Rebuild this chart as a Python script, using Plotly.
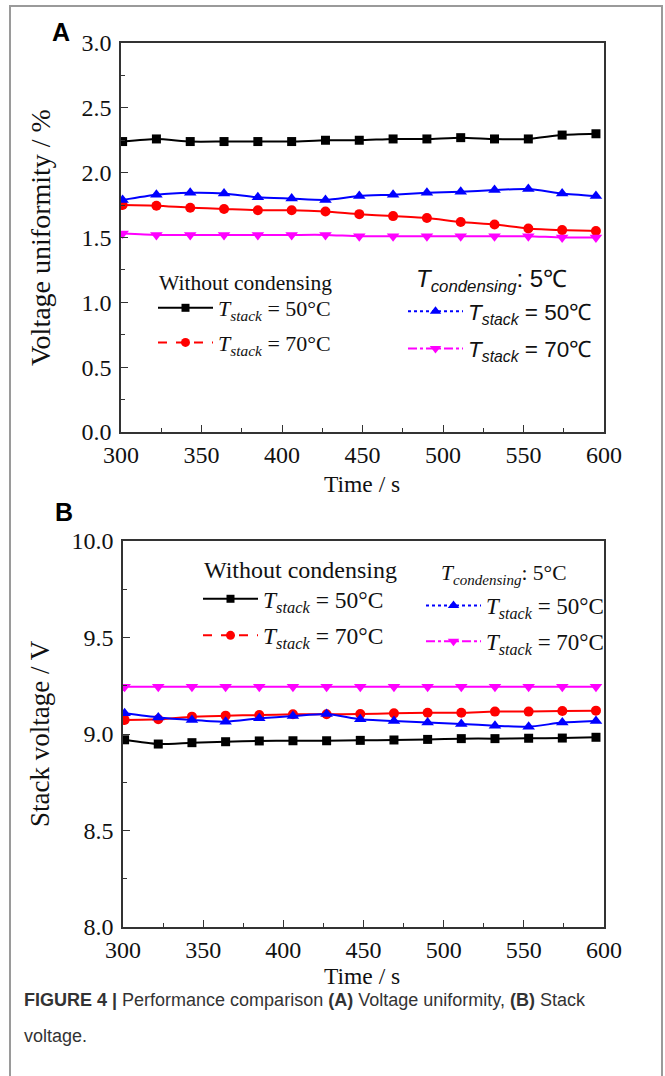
import plotly.graph_objects as go

# ---------------- data ----------------
time_s = [301, 322, 343, 364, 385, 406, 427, 448, 469, 490, 511, 532, 553, 574, 595]

# Panel A: voltage uniformity (%)
vu_nocond_50 = [2.24, 2.26, 2.24, 2.24, 2.24, 2.24, 2.25, 2.25, 2.26, 2.26, 2.27, 2.26, 2.26, 2.29, 2.30]
vu_nocond_70 = [1.75, 1.745, 1.73, 1.72, 1.71, 1.71, 1.70, 1.68, 1.665, 1.65, 1.62, 1.60, 1.57, 1.557, 1.55]
vu_cond_50 = [1.79, 1.83, 1.845, 1.84, 1.81, 1.80, 1.79, 1.82, 1.83, 1.845, 1.853, 1.866, 1.874, 1.84, 1.82]
vu_cond_70 = [1.53, 1.52, 1.52, 1.52, 1.52, 1.52, 1.52, 1.51, 1.51, 1.51, 1.51, 1.51, 1.51, 1.50, 1.50]

# Panel B: stack voltage (V)
sv_nocond_50 = [8.97, 8.948, 8.955, 8.96, 8.964, 8.965, 8.965, 8.967, 8.969, 8.972, 8.976, 8.976, 8.978, 8.979, 8.983]
sv_nocond_70 = [9.073, 9.076, 9.09, 9.095, 9.098, 9.102, 9.102, 9.104, 9.107, 9.11, 9.11, 9.116, 9.116, 9.119, 9.121]
sv_cond_50 = [9.107, 9.086, 9.073, 9.064, 9.081, 9.093, 9.104, 9.076, 9.067, 9.059, 9.052, 9.043, 9.038, 9.059, 9.067]
sv_cond_70 = [9.245, 9.245, 9.245, 9.245, 9.245, 9.245, 9.245, 9.245, 9.245, 9.245, 9.245, 9.245, 9.245, 9.245, 9.245]

x_ticks = [300, 350, 400, 450, 500, 550, 600]

W, H = 665, 1076
SERIF = "Liberation Serif, Times New Roman, serif"
SANS = "Liberation Sans, Arial, sans-serif"

def px(x):
    return x / W

def py(y):
    return 1 - y / H

styles = [
    dict(color="#000000", symbol="square", size=9, dash="solid"),
    dict(color="#ff0000", symbol="circle", size=10, dash="dash"),
    dict(color="#0000ff", symbol="triangle-up", size=11, dash="dot"),
    dict(color="#ff00ff", symbol="triangle-down", size=11, dash="dashdot"),
]

fig = go.Figure()

def add_panel(series, xa, ya, leg_left, leg_right, names_left, names_right):
    for i, ys in enumerate(series):
        st = styles[i]
        fig.add_trace(go.Scatter(
            x=time_s, y=ys, mode="lines+markers", xaxis=xa, yaxis=ya,
            line=dict(color=st["color"], width=2, shape="spline", smoothing=0.6),
            marker=dict(color=st["color"], symbol=st["symbol"], size=st["size"]),
            showlegend=False, hoverinfo="skip"))
    # legend sample traces
    for i in range(4):
        st = styles[i]
        leg = leg_left if i < 2 else leg_right
        name = (names_left + names_right)[i]
        fig.add_trace(go.Scatter(
            x=[None], y=[None], mode="lines+markers", xaxis=xa, yaxis=ya,
            line=dict(color=st["color"], width=2, dash=st["dash"]),
            marker=dict(color=st["color"], symbol=st["symbol"], size=st["size"] - 1),
            name=name, legend=leg, legendgroup=f"{leg}_{i}", showlegend=True))

serif_names = ["<i>T</i><sub><i>stack</i></sub> = 50°C", "<i>T</i><sub><i>stack</i></sub> = 70°C"]
sans_names = ["<i>T</i><sub><i>stack</i></sub> = 50℃", "<i>T</i><sub><i>stack</i></sub> = 70℃"]

add_panel([vu_nocond_50, vu_nocond_70, vu_cond_50, vu_cond_70], "x", "y",
          "legend", "legend2", serif_names, sans_names)
add_panel([sv_nocond_50, sv_nocond_70, sv_cond_50, sv_cond_70], "x2", "y2",
          "legend3", "legend4", serif_names, serif_names)

axis_common = dict(
    showline=True, linecolor="#333333", linewidth=1.5, mirror=True,
    ticks="inside", ticklen=7, tickwidth=1.2, tickcolor="#333333",
    showgrid=False, zeroline=False, automargin=False,
    tickfont=dict(family=SERIF, size=24, color="#111111"),
)

fig.update_layout(
    width=W, height=H, margin=dict(l=0, r=0, t=0, b=0, autoexpand=False),
    paper_bgcolor="white", plot_bgcolor="white",
    xaxis=dict(domain=[px(121), px(604)], anchor="y", range=[300, 600], ticklabelstandoff=0,
               tickvals=x_ticks, minor=dict(ticks="inside", ticklen=4, dtick=25, tick0=300, tickcolor="#333333"),
               **axis_common),
    yaxis=dict(domain=[py(432), py(43)], anchor="x", range=[0, 3], dtick=0.5, tickformat=".1f",
               ticklabelstandoff=3,
               minor=dict(ticks="inside", ticklen=4, dtick=0.25, tickcolor="#333333"),
               **axis_common),
    xaxis2=dict(domain=[px(123), px(604)], anchor="y2", range=[300, 600], ticklabelstandoff=0,
                tickvals=x_ticks, minor=dict(ticks="inside", ticklen=4, dtick=25, tick0=300, tickcolor="#333333"),
                **axis_common),
    yaxis2=dict(domain=[py(927), py(541)], anchor="x2", range=[8, 10], dtick=0.5, tickformat=".1f",
                ticklabelstandoff=3,
                minor=dict(ticks="inside", ticklen=4, dtick=0.25, tickcolor="#333333"),
                **axis_common),
)

def legend_cfg(x, y, font_family, size, gap):
    return dict(
        x=px(x), y=py(y), xanchor="left", yanchor="top",
        bgcolor="rgba(0,0,0,0)", borderwidth=0,
        font=dict(family=font_family, size=size, color="#111111"),
        tracegroupgap=gap, itemwidth=55,
    )

fig.update_layout(
    legend=legend_cfg(153, 287, SERIF, 22, 3),
    legend2=legend_cfg(403, 290, SANS, 22.5, 5),
    legend3=legend_cfg(198, 577, SERIF, 23.5, 3),
    legend4=legend_cfg(421, 584, SERIF, 23, 3),
)

annotations = [
    dict(text="<b>A</b>", x=px(61), y=py(32), font=dict(family=SANS, size=25, color="black")),
    dict(text="<b>B</b>", x=px(64), y=py(512), font=dict(family=SANS, size=25, color="black")),
    dict(text="Time / s", x=px(362), y=py(484), font=dict(family=SERIF, size=23.5, color="#111111")),
    dict(text="Time / s", x=px(362), y=py(976), font=dict(family=SERIF, size=23.5, color="#111111")),
    dict(text="Voltage uniformity / %", x=px(40), y=py(238), textangle=-90,
         font=dict(family=SERIF, size=28, color="#111111")),
    dict(text="Stack voltage / V", x=px(40), y=py(734), textangle=-90,
         font=dict(family=SERIF, size=27, color="#111111")),
]
for a in annotations:
    a.update(xref="paper", yref="paper", showarrow=False, xanchor="center", yanchor="middle")

# legend headings
annotations += [
    dict(text="Without condensing", x=px(157), y=py(283),
         font=dict(family=SERIF, size=21.5, color="#111111")),
    dict(text="<i>T</i><sub><i>condensing</i></sub>: 5℃",
         x=px(414), y=py(281), font=dict(family=SANS, size=24, color="#111111")),
    dict(text="Without condensing", x=px(202), y=py(570),
         font=dict(family=SERIF, size=24, color="#111111")),
    dict(text="<i>T</i><sub><i>condensing</i></sub>: 5°C", x=px(439), y=py(574),
         font=dict(family=SERIF, size=21.5, color="#111111")),
]
for a in annotations[-4:]:
    a.update(xref="paper", yref="paper", showarrow=False, xanchor="left", yanchor="middle")

cap_font = dict(family=SANS, size=18, color="#333333")
annotations += [
    dict(text="<b>FIGURE 4 |</b> Performance comparison <b>(A)</b> Voltage uniformity, <b>(B)</b> Stack",
         x=px(22), y=py(1000), xref="paper", yref="paper", showarrow=False,
         xanchor="left", yanchor="middle", font=cap_font),
    dict(text="voltage.", x=px(22), y=py(1036), xref="paper", yref="paper", showarrow=False,
         xanchor="left", yanchor="middle", font=cap_font),
]
fig.update_layout(annotations=annotations)

# outer frame of the figure
fig.add_shape(type="rect", xref="paper", yref="paper",
              x0=px(10), x1=px(662), y0=py(1090), y1=py(6),
              line=dict(color="#9a9a9a", width=2), fillcolor="rgba(0,0,0,0)", layer="below")

fig.write_html("out.html", config={"displayModeBar": False},
               post_script="document.body.style.margin='0';")
